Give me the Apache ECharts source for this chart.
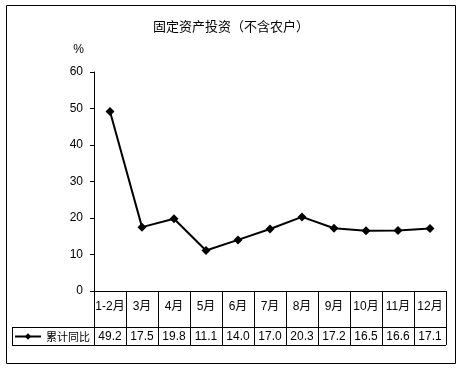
<!DOCTYPE html>
<html><head><meta charset="utf-8">
<script src="https://cdn.jsdelivr.net/npm/echarts@6/dist/echarts.min.js"></script>
<style>html,body{margin:0;padding:0;background:#fff}#c{width:462px;height:369px}</style>
</head><body><div id="c"></div>
<script>
var categories = ['1-2月','3月','4月','5月','6月','7月','8月','9月','10月','11月','12月'];
var values = [49.2, 17.5, 19.8, 11.1, 14.0, 17.0, 20.3, 17.2, 16.5, 16.6, 17.1];
var seriesName = '累计同比';
var titleText = '固定资产投资（不含农户）';
var yMin = 0, yMax = 60, yInterval = 10;

var FONT = '"Liberation Sans", "Noto Sans CJK SC", sans-serif';
var chart = echarts.init(document.getElementById('c'), null, {renderer:'canvas'});
var L = 94, R = 446, T = 72, B = 291, ROW1 = 327, ROW2 = 345, TL = 12;
var line = function(x1,y1,x2,y2){return {type:'line',shape:{x1:x1,y1:y1,x2:x2,y2:y2},style:{stroke:'#000',lineWidth:1}};};
chart.setOption({
  animation:false,
  backgroundColor:'#fff',
  title:{text:titleText,left:'center',top:15,textStyle:{fontFamily:'"Noto Sans CJK SC"',fontSize:13,fontWeight:'normal',color:'#000'}},
  grid:{left:L,right:462-R,top:T,bottom:369-B,containLabel:false},
  legend:{show:true,left:14,top:331,padding:0,itemWidth:26,itemHeight:8,itemGap:0,
    textStyle:{fontFamily:'"Noto Sans CJK SC"',fontSize:11,color:'#000',padding:[0,0,0,0]},
    data:[seriesName]},
  xAxis:[{type:'category',data:categories,boundaryGap:true,position:'bottom',
    axisLine:{show:true,lineStyle:{color:'#000',width:1}},
    axisTick:{show:true,interval:0,length:ROW2-B,inside:false,lineStyle:{color:'#000',width:1}},
    axisLabel:{show:true,interval:0,color:'#000',fontFamily:FONT,fontSize:12,margin:10},
    splitLine:{show:false}},
   {type:'category',data:values.map(function(v){return v.toFixed(1);}),boundaryGap:true,position:'bottom',offset:ROW1-B,
    axisLine:{show:false},axisTick:{show:false},
    axisLabel:{show:true,interval:0,color:'#000',fontFamily:FONT,fontSize:12,margin:4},
    splitLine:{show:false}}],
  yAxis:{type:'value',min:yMin,max:yMax,interval:yInterval,name:'%',nameLocation:'end',nameGap:16,
    nameTextStyle:{fontFamily:FONT,fontSize:12,color:'#000',align:'right',padding:[0,10,0,0]},
    axisLine:{show:true,lineStyle:{color:'#000',width:1}},
    axisTick:{show:true,length:4,lineStyle:{color:'#000'}},
    axisLabel:{color:'#000',fontFamily:FONT,fontSize:12,margin:11},
    splitLine:{show:false}},
  series:[{name:seriesName,type:'line',data:values,xAxisIndex:0,symbol:'diamond',symbolSize:9,
    lineStyle:{color:'#000',width:2},itemStyle:{color:'#000'}}],
  graphic:[
    {type:'rect',shape:{x:6.5,y:5.5,width:449,height:358},style:{fill:null,stroke:'#000',lineWidth:1},silent:true},
    line(TL,ROW1+0.5,R,ROW1+0.5),
    line(TL,ROW2+0.5,R,ROW2+0.5),
    line(TL+0.5,ROW1,TL+0.5,ROW2)
  ]
});
</script></body></html>
